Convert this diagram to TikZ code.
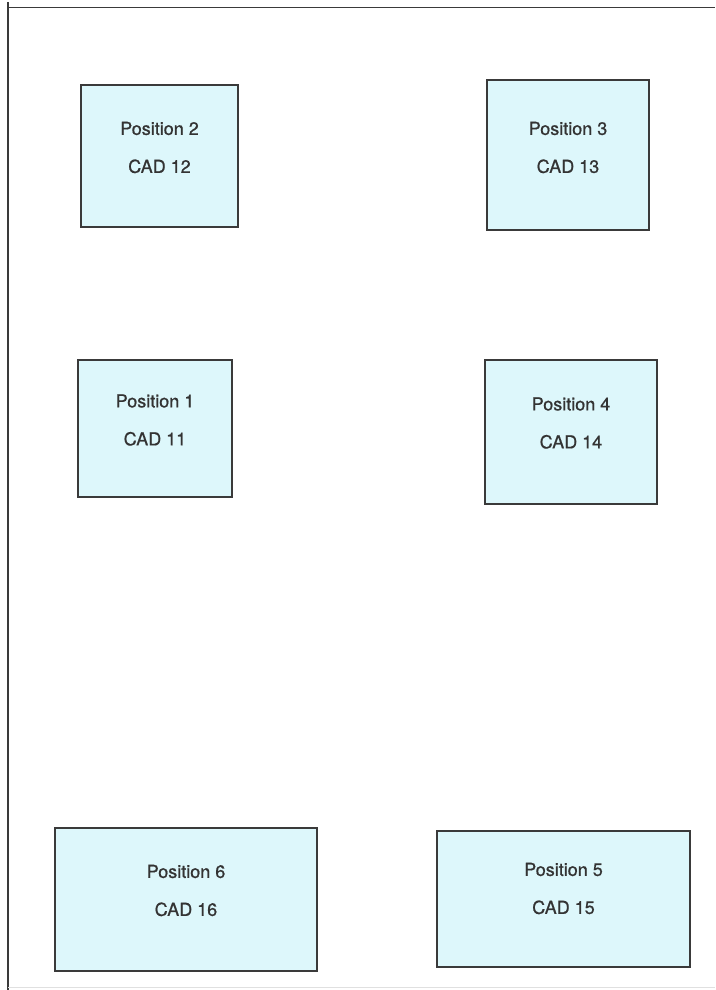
\documentclass[tikz,border=0pt]{standalone}
\usepackage{fontspec}
\setmainfont{TeX Gyre Heros}
\newfontfamily\posfont[FakeBold=0.8]{TeX Gyre Heros}
\definecolor{boxfill}{HTML}{DDF7FB}
\definecolor{boxline}{HTML}{3A3A3A}
\definecolor{inkgray}{HTML}{333333}
\begin{document}
\begin{tikzpicture}[x=1pt,y=-1pt,
    posbox/.style={draw=boxline, fill=boxfill, line width=1.5pt, rectangle, inner sep=0pt},
    postext/.style={text=inkgray, align=center, font=\posfont\fontsize{18}{38}\selectfont}]
    \useasboundingbox (0,0) rectangle (715,990);
    % page frame
    \draw[boxline, line width=2pt] (8,2) -- (8,990);
    \draw[boxline, line width=1.5pt] (8,7.5) -- (715,7.5);
    \draw[black!12, line width=1pt] (8,987) -- (715,987);

    % boxes
    \node[posbox, minimum width=157pt, minimum height=142pt] (p2) at (159.5,156) {};
    \node[posbox, minimum width=162pt, minimum height=150pt] (p3) at (568,155) {};
    \node[posbox, minimum width=154pt, minimum height=137pt] (p1) at (155,428.5) {};
    \node[posbox, minimum width=172pt, minimum height=144pt] (p4) at (571,432) {};
    \node[posbox, minimum width=262pt, minimum height=143pt] (p6) at (186,899.5) {};
    \node[posbox, minimum width=253pt, minimum height=136pt] (p5) at (563.5,899) {};

    % labels
    \node[postext] (t2) at ([yshift=8.5pt]p2.center) {Position 2\\CAD 12};
    \node[postext] (t3) at ([yshift=7.5pt]p3.center) {Position 3\\CAD 13};
    \node[postext] (t1) at ([yshift=8.5pt]p1.center) {Position 1\\CAD 11};
    \node[postext] (t4) at ([yshift=9pt]p4.center) {Position 4\\CAD 14};
    \node[postext] (t6) at ([yshift=9pt]p6.center) {Position 6\\CAD 16};
    \node[postext] (t5) at ([yshift=10.5pt]p5.center) {Position 5\\CAD 15};
\end{tikzpicture}
\end{document}
